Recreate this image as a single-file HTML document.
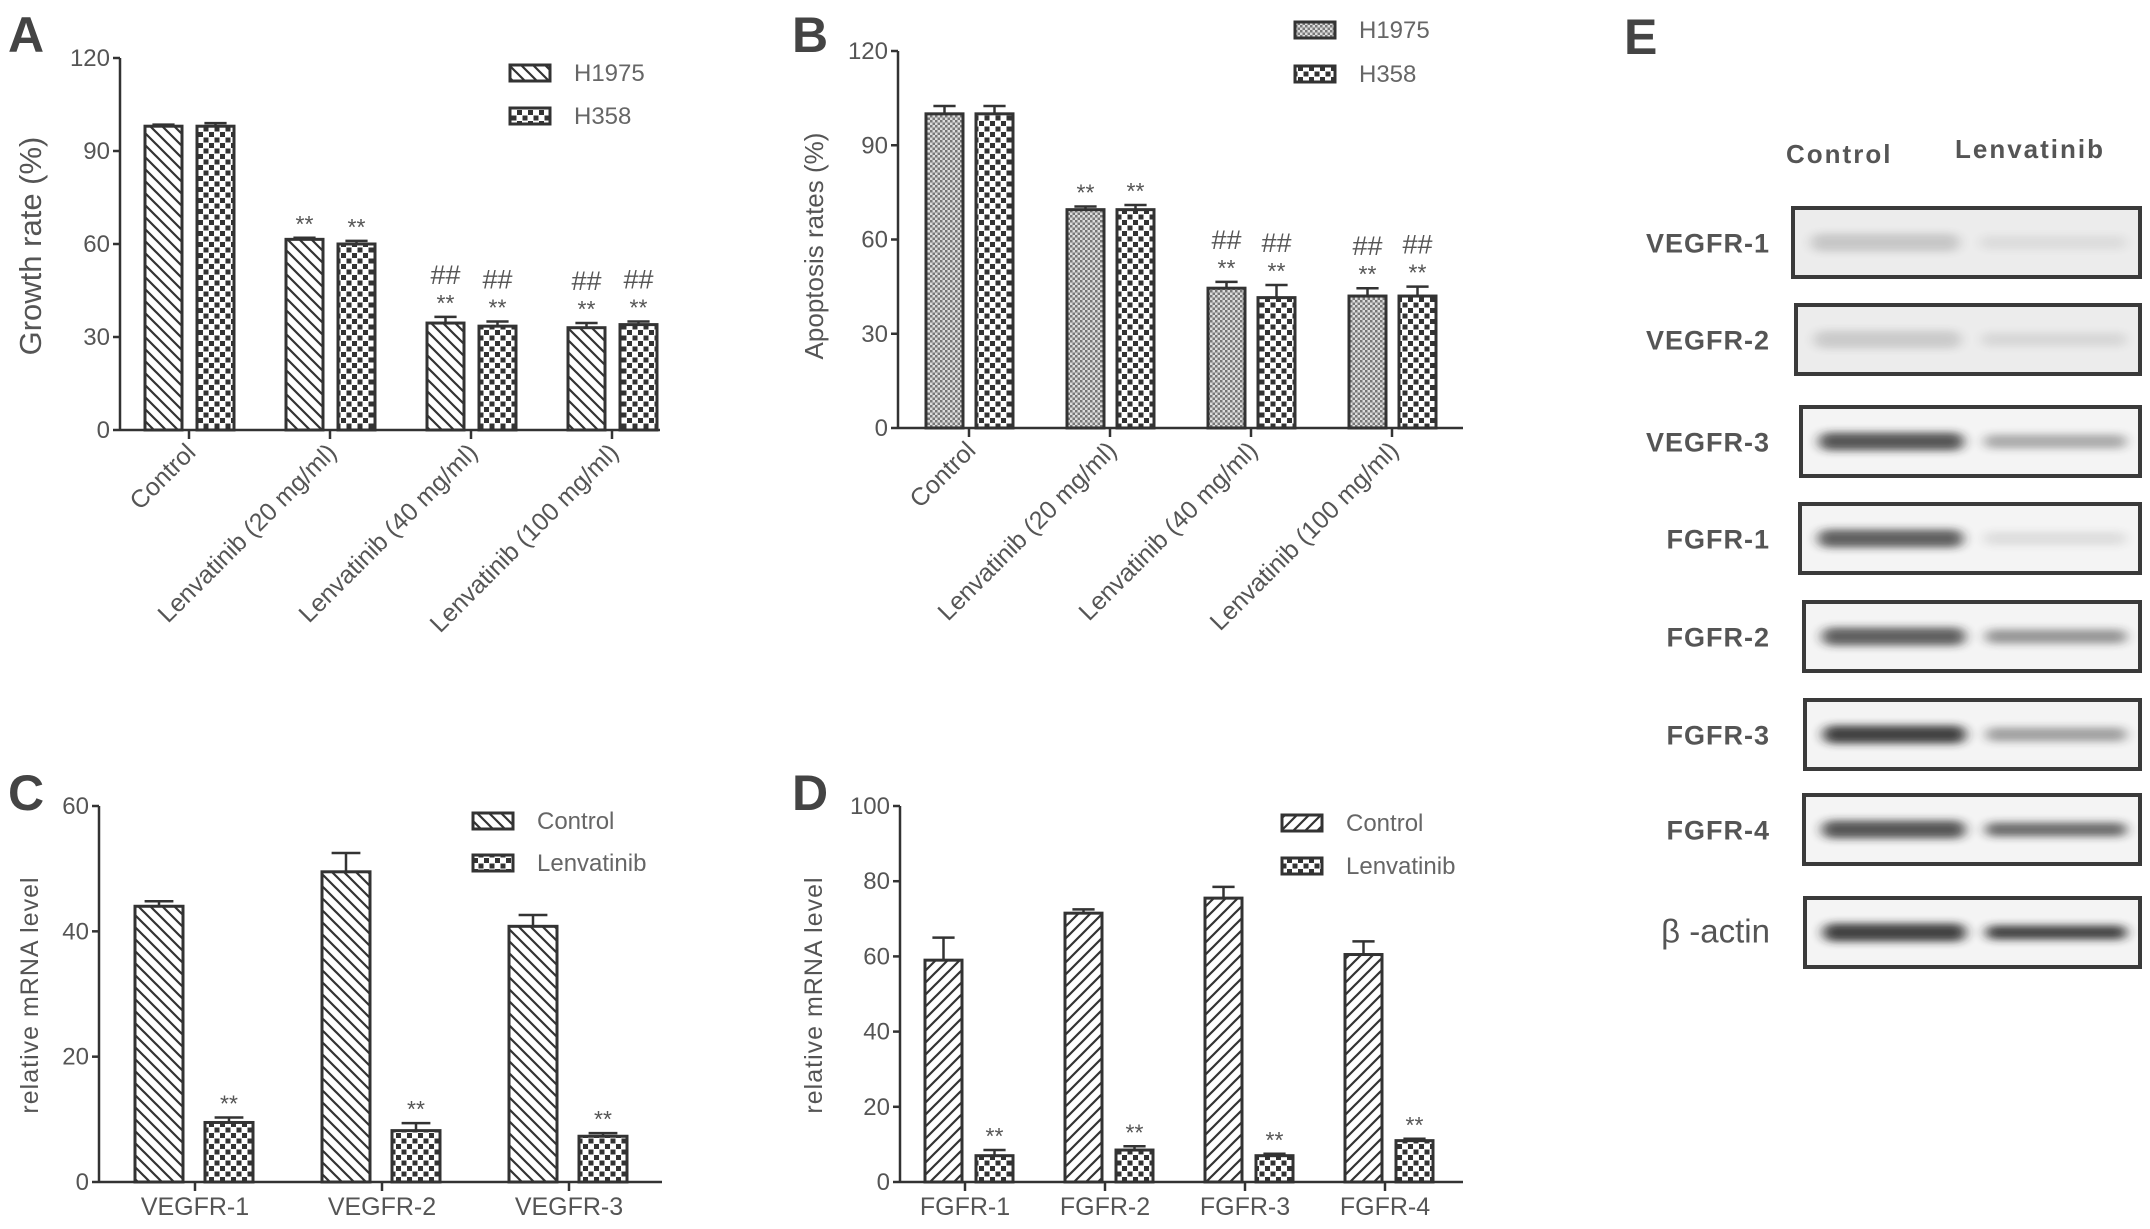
<!DOCTYPE html>
<html><head><meta charset="utf-8"><style>
html,body{margin:0;padding:0;background:#fff;}
svg{display:block;font-family:"Liberation Sans",Arial,sans-serif;}
</style></head><body>
<svg id="fig" width="2150" height="1229" viewBox="0 0 2150 1229" xmlns="http://www.w3.org/2000/svg">
<defs>
<pattern id="pBack" width="12" height="12" patternUnits="userSpaceOnUse"><rect width="12" height="12" fill="#fff"/><path d="M-3,-3 L15,15 M-3,9 L3,15 M9,-3 L15,3" stroke="#333" stroke-width="2.2"/></pattern>
<pattern id="pFwd" width="12" height="12" patternUnits="userSpaceOnUse"><rect width="12" height="12" fill="#fff"/><path d="M-3,15 L15,-3 M-3,3 L3,-3 M9,15 L15,9" stroke="#333" stroke-width="2.2"/></pattern>
<pattern id="pCheck" width="11" height="11" patternUnits="userSpaceOnUse"><rect width="11" height="11" fill="#fff"/><rect x="0" y="0" width="5" height="5" fill="#333"/><rect x="5.5" y="5.5" width="5" height="5" fill="#333"/></pattern>
<pattern id="pFine" width="5" height="5" patternUnits="userSpaceOnUse"><rect width="5" height="5" fill="#ddd"/><rect x="0" y="0" width="2.5" height="2.5" fill="#777"/><rect x="2.5" y="2.5" width="2.5" height="2.5" fill="#777"/></pattern>
<filter id="blur" x="-20%" y="-200%" width="140%" height="500%"><feGaussianBlur stdDeviation="6 4"/></filter>
</defs>
<g id="root"></g>
</svg>
<script>
// Panel A
const catsA = ["Control","Lenvatinib (20 mg/ml)","Lenvatinib (40 mg/ml)","Lenvatinib (100 mg/ml)"];
const h1975A = [98, 61.5, 34.5, 33];
const h1975ErrA = [0.5, 0.5, 2, 1.5];
const h358A = [98, 60, 33.5, 34];
const h358ErrA = [1, 1, 1.5, 1];
const ticksA = [0, 30, 60, 90, 120];
// Panel B
const catsB = ["Control","Lenvatinib (20 mg/ml)","Lenvatinib (40 mg/ml)","Lenvatinib (100 mg/ml)"];
const h1975B = [100, 69.5, 44.5, 42];
const h1975ErrB = [2.5, 1, 2, 2.5];
const h358B = [100, 69.5, 41.5, 42];
const h358ErrB = [2.5, 1.5, 4, 3];
const ticksB = [0, 30, 60, 90, 120];
// Panel C
const catsC = ["VEGFR-1","VEGFR-2","VEGFR-3"];
const ctrlC = [44, 49.5, 40.8];
const ctrlErrC = [0.8, 3, 1.8];
const lenvC = [9.5, 8.2, 7.3];
const lenvErrC = [0.8, 1.2, 0.5];
const ticksC = [0, 20, 40, 60];
// Panel D
const catsD = ["FGFR-1","FGFR-2","FGFR-3","FGFR-4"];
const ctrlD = [59, 71.5, 75.5, 60.5];
const ctrlErrD = [6, 1, 3, 3.5];
const lenvD = [7, 8.5, 7, 11];
const lenvErrD = [1.5, 1, 0.5, 0.5];
const ticksD = [0, 20, 40, 60, 80, 100];
// Annotations
const starsA = [[false,false],[true,true],[true,true],[true,true]];
const hashA = [[false,false],[false,false],[true,true],[true,true]];
const starsC = [false,false,false];
const starsD = [false,false,false,false];
// Blots
const blotNames = ["VEGFR-1","VEGFR-2","VEGFR-3","FGFR-1","FGFR-2","FGFR-3","FGFR-4","β -actin"];
const blotCtrl = [0.18, 0.16, 0.75, 0.7, 0.7, 0.85, 0.75, 0.85];
const blotLenv = [0.08, 0.1, 0.35, 0.1, 0.45, 0.4, 0.65, 0.85];

const NS = "http://www.w3.org/2000/svg";
const root = document.getElementById('root');
function mk(tag, attrs, parent, text){
  const e = document.createElementNS(NS, tag);
  for (const k in attrs) e.setAttribute(k, attrs[k]);
  if (text !== undefined) e.textContent = text;
  (parent||root).appendChild(e);
  return e;
}
const AX = "#333", TXT = "#555";

function panel(cfg){
  const g = mk('g', {});
  
  
  const yS = v => cfg.y0 - (v / cfg.ymax) * (cfg.y0 - cfg.yTop);
  const L = mk('text', {x: cfg.letterX, y: cfg.letterY, 'font-size': 50, 'font-weight': 'bold', fill: '#444'}, g, cfg.letter);
  
  
  const ya = mk('line', {x1: cfg.ax, y1: cfg.yTop, x2: cfg.ax, y2: cfg.y0, stroke: AX, 'stroke-width': 2.5}, g);
  
  
  cfg.ticks.forEach(t => {
    const y = yS(t);
    mk('line', {x1: cfg.ax - 7, y1: y, x2: cfg.ax, y2: y, stroke: AX, 'stroke-width': 2.5}, g);
    const tl = mk('text', {x: cfg.ax - 10, y: y + 8, 'font-size': 24, fill: TXT, 'text-anchor': 'end'}, g, String(t));
    
    
  });
  const yt = mk('text', {x: 0, y: 0, 'font-size': cfg.ytSize, fill: TXT, 'text-anchor': 'middle', 'letter-spacing': cfg.ytLs || 0, transform: `translate(${cfg.ytX},${cfg.ytY}) rotate(-90)`}, g, cfg.ytitle);
  
  
  const xa = mk('line', {x1: cfg.ax, y1: cfg.y0, x2: cfg.axEnd, y2: cfg.y0, stroke: AX, 'stroke-width': 2.5}, g);
  
  
  const seriesList = [[cfg.s1[0], cfg.s1[1], cfg.p1, cfg.off1], [cfg.s2[0], cfg.s2[1], cfg.p2, cfg.off2]];
  cfg.cats.forEach((c, i) => {
    const cx = cfg.c0 + i * cfg.step;
    mk('line', {x1: cx, y1: cfg.y0, x2: cx, y2: cfg.y0 + 9, stroke: AX, 'stroke-width': 2.5}, g);
    let xl;
    if (cfg.rot) xl = mk('text', {x: 0, y: 0, 'font-size': 25, fill: TXT, 'text-anchor': 'end', transform: `translate(${cx + 8},${cfg.y0 + 24}) rotate(-45)`}, g, c);
    else xl = mk('text', {x: cx, y: cfg.y0 + 33, 'font-size': 25, fill: TXT, 'text-anchor': 'middle'}, g, c);
    
    
    seriesList.forEach((s, j) => {
      const v = s[0][i], err = s[1][i];
      const bx = cx + s[3], top = yS(v), et = yS(v + err);
      const mid = bx + cfg.bw / 2;
      const el = mk('line', {x1: mid, y1: top, x2: mid, y2: et, stroke: AX, 'stroke-width': 2.5}, g);
      
      
      mk('line', {x1: mid - cfg.bw * 0.3, y1: et, x2: mid + cfg.bw * 0.3, y2: et, stroke: AX, 'stroke-width': 2.5}, g);
      const r = mk('rect', {x: bx, y: top, width: cfg.bw, height: cfg.y0 - top, fill: `url(#${s[2]})`, stroke: AX, 'stroke-width': 3}, g);
      
      
      if (cfg.stars(i, j)) {
        const st = mk('text', {x: mid, y: et - 6, 'font-size': 23, fill: TXT, 'text-anchor': 'middle'}, g, '**');
        
        
      }
      if (cfg.hash(i, j)) {
        const hs = mk('text', {x: mid, y: et - 33, 'font-size': 27, fill: TXT, 'text-anchor': 'middle'}, g, '##');
        
        
      }
    });
  });
  cfg.series.forEach((s, j) => {
    const ly = cfg.legY + j * cfg.legGap;
    const lb = mk('rect', {x: cfg.legX, y: ly, width: 40, height: 16, fill: `url(#${j ? cfg.p2 : cfg.p1})`, stroke: AX, 'stroke-width': 3}, g);
    
    
    const lt = mk('text', {x: cfg.legX + 64, y: ly + 16, 'font-size': 24, fill: '#666'}, g, s);
    
    
  });
}

panel({name:'panel-a-growth-rate', letter:'A', letterX:8, letterY:52, ax:120, axEnd:660, y0:430, yTop:58, ymax:120, ticks:ticksA,
  ytitle:'Growth rate (%)', ytSize:31, ytX:41, ytY:246, cats:catsA, c0:189, step:141, bw:37, off1:-44, off2:8, rot:true,
  s1:[h1975A,h1975ErrA], s2:[h358A,h358ErrA], p1:'pBack', p2:'pCheck', series:['H1975','H358'],
  stars:(i,j)=>starsA[i][j], hash:(i,j)=>hashA[i][j], legX:510, legY:65, legGap:43});
panel({name:'panel-b-apoptosis', letter:'B', letterX:792, letterY:52, ax:898, axEnd:1463, y0:428, yTop:51, ymax:120, ticks:ticksB,
  ytitle:'Apoptosis rates (%)', ytSize:26, ytX:823, ytY:246, cats:catsB, c0:969, step:141, bw:37, off1:-43, off2:7, rot:true,
  s1:[h1975B,h1975ErrB], s2:[h358B,h358ErrB], p1:'pFine', p2:'pCheck', series:['H1975','H358'],
  stars:(i,j)=>starsA[i][j], hash:(i,j)=>hashA[i][j], legX:1295, legY:22, legGap:44});
panel({name:'panel-c-vegfr-mrna', letter:'C', letterX:8, letterY:810, ax:99, axEnd:662, y0:1182, yTop:806, ymax:60, ticks:ticksC,
  ytitle:'relative mRNA level', ytSize:25, ytLs:1, ytX:38, ytY:995, cats:catsC, c0:195, step:187, bw:48, off1:-60, off2:10, rot:false,
  s1:[ctrlC,ctrlErrC], s2:[lenvC,lenvErrC], p1:'pBack', p2:'pCheck', series:['Control','Lenvatinib'],
  stars:(i,j)=>j===1||starsC[i], hash:()=>false, legX:473, legY:813, legGap:42});
panel({name:'panel-d-fgfr-mrna', letter:'D', letterX:792, letterY:810, ax:900, axEnd:1463, y0:1182, yTop:806, ymax:100, ticks:ticksD,
  ytitle:'relative mRNA level', ytSize:25, ytLs:1, ytX:822, ytY:995, cats:catsD, c0:965, step:140, bw:37, off1:-40, off2:11, rot:false,
  s1:[ctrlD,ctrlErrD], s2:[lenvD,lenvErrD], p1:'pFwd', p2:'pCheck', series:['Control','Lenvatinib'],
  stars:(i,j)=>j===1||starsD[i], hash:()=>false, legX:1282, legY:815, legGap:43});

(function(){
  const g = mk('g', {});
  
  
  const L = mk('text', {x: 1624, y: 54, 'font-size': 50, 'font-weight': 'bold', fill: '#444'}, g, 'E');
  
  
  const h1 = mk('text', {x: 1786, y: 163, 'font-size': 26, 'font-weight': 'bold', fill: '#555', 'letter-spacing': 2}, g, 'Control');
  
  
  const h2 = mk('text', {x: 1955, y: 158, 'font-size': 26, 'font-weight': 'bold', fill: '#555', 'letter-spacing': 2}, g, 'Lenvatinib');
  
  
  const boxX = [1793, 1796, 1801, 1800, 1804, 1805, 1804, 1805];
  const boxY = [208, 305, 407, 504, 602, 700, 795, 898];
  blotNames.forEach((n, i) => {
    const x = boxX[i], y = boxY[i], w = 2140 - x, h = 69;
    const bg = mk('rect', {x: x, y: y, width: w, height: h, fill: i < 2 ? '#ececec' : '#f4f4f4', stroke: '#3a3a3a', 'stroke-width': 4}, g);
    
    
    const cy = y + h / 2;
    const b1 = mk('rect', {x: x + 18, y: cy - 9, width: w * 0.48 - 18, height: 18, rx: 9, fill: '#222', opacity: blotCtrl[i], filter: 'url(#blur)'}, g);
    
    
    const b2 = mk('rect', {x: x + w * 0.54, y: cy - 7, width: w * 0.42, height: 14, rx: 7, fill: '#222', opacity: blotLenv[i], filter: 'url(#blur)'}, g);
    
    
    const isActin = i === 7;
    const t = mk('text', {x: 1770, y: cy + 10, 'font-size': isActin ? 33 : 27, 'font-weight': isActin ? 'normal' : 'bold', fill: '#555', 'text-anchor': 'end', 'letter-spacing': isActin ? 0 : 1}, g, n);
    
    
  });
})();
</script>
</body></html>
